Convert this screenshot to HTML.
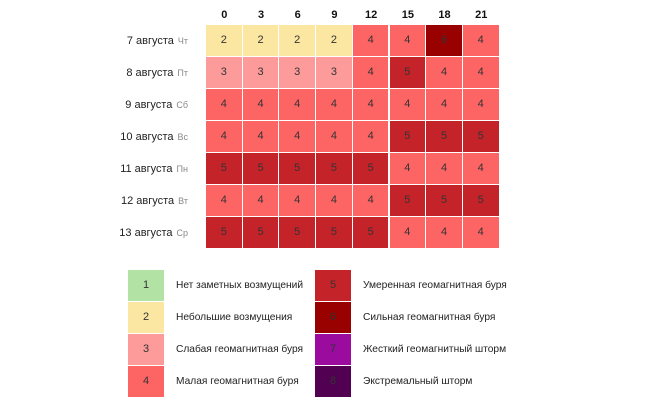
<!DOCTYPE html>
<html><head><meta charset="utf-8"><style>
body{margin:0;width:655px;height:403px;background:#fff;font-family:"Liberation Sans",sans-serif;position:relative;overflow:hidden}
.h{position:absolute;top:9px;width:36.7px;text-align:center;font-weight:bold;font-size:11px;color:#111}
.c{position:absolute;width:35.7px;height:31px;text-align:center;line-height:31px;font-size:11px;color:#333}
.l{position:absolute;left:60px;width:128px;text-align:right;font-size:11px;color:#222;line-height:32px}
.l span{color:#888;font-size:9px;margin-left:4px}
.s{position:absolute;width:36px;height:31px;text-align:center;line-height:31px;font-size:11px;color:#333}
.t{position:absolute;font-size:10.2px;color:#222;line-height:32px;white-space:nowrap}
</style></head><body>
<div id="g"></div>
<script>
var cols=[0,3,6,9,12,15,18,21];
var data=[[2,2,2,2,4,4,6,4],[3,3,3,3,4,5,4,4],[4,4,4,4,4,4,4,4],[4,4,4,4,4,5,5,5],[5,5,5,5,5,4,4,4],[4,4,4,4,4,5,5,5],[5,5,5,5,5,4,4,4]];
var days=["7 августа|Чт","8 августа|Пт","9 августа|Сб","10 августа|Вс","11 августа|Пн","12 августа|Вт","13 августа|Ср"];
var col={1:"#b3e3a4",2:"#fbe6a2",3:"#fd9b9b",4:"#fd6565",5:"#c42329",6:"#990000",7:"#9b0c9e",8:"#520052"};
var h="";
cols.forEach(function(c,i){h+='<div class="h" style="left:'+(206+i*36.7)+'px">'+c+'</div>';});
data.forEach(function(r,j){var d=days[j].split("|");
h+='<div class="l" style="top:'+(25+j*32)+'px">'+d[0]+'<span>'+d[1]+'</span></div>';
r.forEach(function(v,i){h+='<div class="c" style="left:'+(206+i*36.7)+'px;top:'+(25+j*32)+'px;background:'+col[v]+'">'+v+'</div>';});});
var lt=["Нет заметных возмущений","Небольшие возмущения","Слабая геомагнитная буря","Малая геомагнитная буря","Умеренная геомагнитная буря","Сильная геомагнитная буря","Жесткий геомагнитный шторм","Экстремальный шторм"];
for(var k=0;k<8;k++){var x=k<4?128:315,y=270+(k%4)*32;
h+='<div class="s" style="left:'+x+'px;top:'+y+'px;background:'+col[k+1]+'">'+(k+1)+'</div>';
h+='<div class="t" style="left:'+(x+48)+'px;top:'+y+'px">'+lt[k]+'</div>';}
document.getElementById("g").innerHTML=h;
</script>
</body></html>
